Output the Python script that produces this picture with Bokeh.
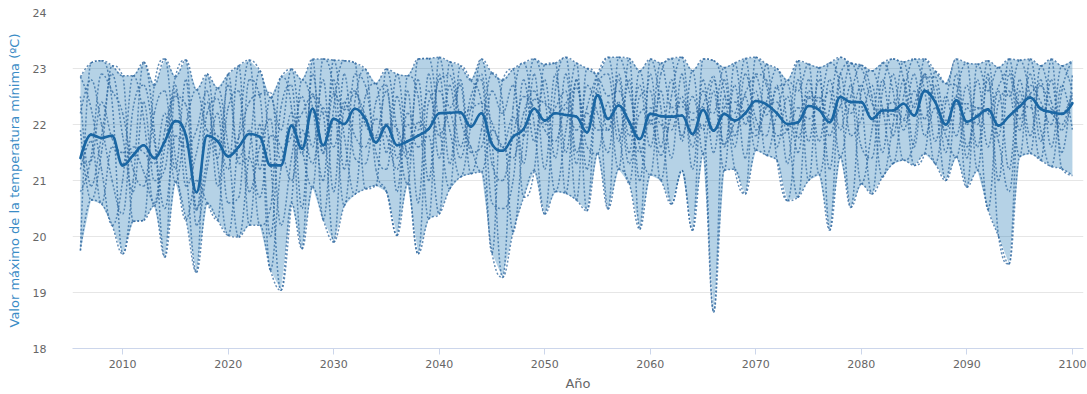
from bokeh.plotting import figure
from bokeh.models import Range1d, FixedTicker, ColumnDataSource
from bokeh.embed import file_html
from bokeh.resources import INLINE

years = list(range(2006, 2101))

mean_vals = [21.40, 21.82, 21.76, 21.80, 21.27, 21.45, 21.63, 21.40, 21.70, 22.06,
             21.80, 20.79, 21.80, 21.70, 21.43, 21.60, 21.83, 21.78, 21.27, 21.27,
             21.98, 21.57, 22.28, 21.63, 22.10, 22.01, 22.28, 22.10, 21.68, 21.98,
             21.63, 21.70, 21.80, 21.92, 22.20, 22.21, 22.22, 21.96, 22.20, 21.65,
             21.53, 21.78, 21.92, 22.28, 22.07, 22.20, 22.17, 22.14, 21.86, 22.52,
             22.10, 22.34, 22.05, 21.74, 22.19, 22.15, 22.14, 22.16, 21.83, 22.26,
             21.89, 22.19, 22.07, 22.20, 22.42, 22.36, 22.20, 22.01, 22.04, 22.33,
             22.26, 22.04, 22.49, 22.40, 22.40, 22.10, 22.25, 22.25, 22.37, 22.16,
             22.60, 22.40, 22.00, 22.43, 22.05, 22.15, 22.27, 21.98, 22.15, 22.32,
             22.48, 22.28, 22.22, 22.19, 22.38]

upper_vals = [22.85, 23.10, 23.14, 23.05, 22.87, 22.87, 23.11, 22.70, 23.17, 22.85,
              23.15, 22.62, 22.90, 22.65, 22.90, 23.05, 23.15, 22.96, 22.48, 22.85,
              22.99, 22.80, 23.17, 23.17, 23.15, 23.14, 23.10, 22.99, 22.73, 22.99,
              22.90, 22.87, 23.17, 23.18, 23.20, 23.12, 23.05, 22.79, 23.17, 22.92,
              22.79, 22.99, 23.10, 23.17, 23.07, 23.10, 23.20, 23.10, 23.00, 22.90,
              23.20, 23.20, 23.18, 22.96, 23.17, 23.10, 23.18, 23.20, 22.96, 23.17,
              23.14, 23.02, 23.10, 23.18, 23.20, 23.08, 23.00, 22.79, 23.14, 23.08,
              23.02, 23.10, 23.20, 23.10, 23.06, 22.96, 23.10, 23.17, 23.12, 23.17,
              23.17, 22.95, 22.73, 23.17, 23.10, 23.08, 23.14, 23.02, 23.17, 23.15,
              23.17, 23.05, 23.17, 23.05, 23.14]

lower_vals = [19.75, 20.65, 20.58, 20.20, 19.69, 20.27, 20.29, 20.55, 19.63, 20.97,
              20.30, 19.36, 20.60, 20.29, 20.02, 19.99, 20.20, 20.20, 19.40, 19.04,
              20.60, 19.78, 20.88, 20.30, 19.90, 20.55, 20.75, 20.85, 20.91, 20.80,
              20.02, 20.94, 19.69, 20.31, 20.40, 20.85, 21.06, 21.12, 21.15, 19.70,
              19.27, 20.08, 20.70, 21.18, 20.40, 20.80, 20.77, 20.65, 20.46, 21.48,
              20.49, 21.20, 20.95, 20.13, 21.10, 21.00, 20.58, 21.18, 20.11, 21.48,
              18.65, 21.18, 21.20, 20.76, 21.54, 21.45, 21.36, 20.64, 20.70, 21.00,
              21.10, 20.11, 21.42, 20.52, 20.94, 20.76, 21.06, 21.30, 21.36, 21.27,
              21.48, 21.30, 21.00, 21.42, 20.88, 21.18, 20.48, 20.00, 19.51, 21.42,
              21.48, 21.36, 21.25, 21.21, 21.09]

model_1 = [22.85, 22.30, 21.20, 20.20, 21.00, 22.87, 22.10, 20.55, 21.60, 22.85,
           23.15, 20.50, 21.40, 22.65, 21.60, 19.99, 21.50, 22.96, 21.40, 19.04,
           20.60, 22.80, 22.30, 21.00, 23.15, 21.80, 20.75, 22.50, 22.73, 21.50,
           22.90, 21.30, 19.69, 22.40, 22.60, 21.90, 21.06, 22.00, 23.17, 21.70,
           19.27, 22.30, 23.10, 22.00, 20.40, 22.60, 23.20, 21.50, 22.30, 22.90,
           23.20, 21.90, 20.95, 22.50, 22.60, 21.00, 22.50, 23.20, 21.80, 22.00,
           18.65, 22.50, 22.20, 23.18, 21.90, 22.40, 23.00, 22.00, 20.70, 22.60,
           22.40, 23.10, 22.60, 20.52, 22.60, 22.96, 22.30, 21.30, 22.50, 23.17,
           22.60, 21.30, 22.40, 23.17, 21.60, 22.20, 20.48, 22.40, 22.60, 21.42,
           23.17, 21.90, 21.25, 22.60, 23.14]

model_2 = [19.75, 23.10, 23.14, 22.40, 19.69, 21.00, 23.11, 21.90, 19.63, 22.60,
           21.20, 19.36, 22.90, 21.30, 20.02, 21.80, 23.15, 21.20, 22.48, 21.90,
           22.99, 21.60, 20.88, 23.17, 22.60, 20.55, 22.40, 22.99, 21.20, 20.80,
           20.02, 22.87, 22.50, 20.31, 23.20, 22.30, 22.70, 21.12, 21.90, 22.92,
           22.40, 20.08, 21.80, 23.17, 22.50, 20.80, 21.90, 23.10, 20.46, 22.60,
           20.49, 23.20, 22.60, 21.60, 21.10, 22.90, 23.18, 21.70, 22.96, 21.48,
           22.60, 21.18, 23.10, 22.00, 22.60, 21.45, 22.20, 22.79, 22.60, 23.08,
           21.10, 22.30, 23.20, 22.80, 20.94, 21.90, 23.10, 22.60, 21.36, 21.70,
           23.17, 22.50, 21.00, 22.50, 23.10, 21.18, 22.90, 20.00, 19.51, 22.60,
           21.48, 23.05, 22.40, 21.90, 22.50]

model_3 = [21.90, 20.65, 21.50, 23.05, 22.87, 20.27, 20.29, 22.70, 23.17, 21.40,
           20.30, 21.00, 20.60, 20.29, 22.90, 21.40, 21.90, 20.20, 20.50, 22.85,
           22.30, 19.78, 23.17, 20.30, 22.30, 23.14, 23.10, 20.85, 20.91, 22.99,
           21.90, 20.94, 23.17, 23.18, 22.00, 20.85, 23.05, 22.79, 22.40, 19.70,
           22.79, 22.99, 20.70, 21.18, 23.07, 23.10, 20.77, 22.80, 21.60, 21.48,
           22.40, 21.20, 23.18, 20.13, 23.17, 22.30, 20.58, 21.18, 20.11, 23.17,
           23.14, 22.60, 21.20, 20.76, 23.20, 22.70, 21.80, 21.90, 23.14, 21.00,
           23.02, 20.11, 22.90, 23.10, 22.40, 20.76, 22.60, 23.17, 22.80, 21.27,
           21.48, 22.95, 22.73, 22.70, 20.88, 23.08, 22.60, 23.02, 22.50, 23.15,
           22.50, 21.36, 23.17, 21.21, 21.09]

model_4 = [21.20, 21.70, 20.58, 21.60, 21.30, 21.60, 21.50, 21.30, 22.20, 20.97,
           22.00, 22.62, 21.90, 21.80, 21.20, 23.05, 20.20, 22.00, 19.40, 21.20,
           21.80, 22.20, 22.50, 22.20, 19.90, 22.30, 22.60, 22.00, 21.80, 22.60,
           21.40, 22.00, 21.60, 21.80, 20.40, 23.12, 22.10, 21.60, 21.15, 21.90,
           21.60, 21.40, 22.20, 22.60, 22.00, 22.30, 22.60, 20.65, 23.00, 22.80,
           21.90, 22.80, 21.50, 22.96, 22.00, 23.10, 22.30, 22.40, 22.20, 22.30,
           22.20, 23.02, 21.80, 22.50, 21.54, 23.08, 21.36, 20.64, 22.00, 22.50,
           22.30, 22.60, 21.42, 22.50, 23.06, 22.50, 21.06, 22.00, 23.12, 22.30,
           22.90, 22.40, 21.80, 21.42, 22.30, 22.00, 23.14, 21.80, 23.17, 22.10,
           22.70, 22.40, 22.00, 23.05, 22.60]

model_5 = [21.30, 21.35, 22.40, 21.75, 21.50, 21.50, 21.15, 20.60, 21.90, 22.50,
           22.35, 20.47, 22.20, 22.46, 21.43, 21.76, 22.40, 22.54, 22.57, 21.36,
           22.21, 21.47, 22.55, 21.48, 22.55, 22.26, 22.55, 22.16, 21.76, 22.01,
           21.93, 21.39, 22.04, 21.91, 22.80, 22.88, 22.19, 22.29, 22.38, 22.03,
           21.59, 22.13, 21.80, 22.45, 22.38, 22.20, 22.38, 22.65, 21.94, 22.82,
           22.51, 22.60, 22.02, 21.51, 22.08, 21.45, 22.14, 22.32, 22.08, 22.35,
           22.86, 21.65, 22.05, 22.56, 22.86, 22.17, 22.64, 22.72, 21.76, 22.47,
           22.48, 22.09, 22.33, 23.08, 23.00, 22.38, 22.19, 22.18, 22.07, 22.36,
           22.85, 22.85, 22.07, 22.36, 22.37, 22.29, 22.23, 22.68, 22.97, 22.33,
           22.55, 22.69, 22.28, 22.19, 22.55]

model_6 = [22.2, 22.8, 22.0, 21.0, 20.4, 22.3, 22.7, 21.7, 20.5, 21.8,
           21.6, 21.9, 22.6, 20.9, 22.3, 22.6, 20.8, 21.6, 22.1, 20.2,
           21.4, 22.5, 21.6, 22.8, 20.8, 22.9, 21.4, 21.3, 22.4, 22.7,
           20.8, 22.6, 20.6, 22.9, 21.4, 22.7, 21.6, 22.5, 22.8, 20.6,
           20.5, 21.0, 22.8, 21.7, 22.8, 21.4, 22.9, 21.3, 22.7, 22.2,
           21.5, 22.9, 21.8, 22.7, 21.6, 22.6, 21.4, 22.9, 21.2, 22.8,
           21.5, 22.8, 21.6, 22.9, 22.1, 21.8, 22.7, 21.3, 22.8, 21.7,
           22.8, 21.2, 22.9, 21.8, 22.1, 22.7, 21.5, 22.9, 21.9, 22.6,
           22.1, 22.7, 21.5, 22.9, 21.4, 22.8, 21.6, 22.6, 21.2, 22.8,
           21.8, 22.8, 21.6, 22.7, 21.9]

model_7 = [20.8, 21.4, 22.9, 22.6, 22.2, 21.2, 20.9, 22.2, 22.6, 21.2,
           22.8, 20.2, 21.2, 22.2, 20.6, 20.7, 22.8, 22.5, 20.0, 22.3,
           22.7, 20.5, 22.9, 21.5, 22.8, 21.2, 22.9, 22.7, 21.5, 21.2,
           22.5, 21.5, 22.8, 21.0, 22.9, 21.3, 22.8, 21.5, 21.6, 22.6,
           22.2, 22.7, 21.3, 22.9, 21.2, 22.9, 21.5, 22.8, 21.2, 22.7,
           22.9, 21.7, 22.8, 21.0, 22.9, 21.6, 22.8, 21.8, 22.5, 21.9,
           22.8, 21.6, 22.7, 21.4, 22.9, 22.8, 21.6, 22.5, 21.5, 22.8,
           21.7, 22.8, 21.9, 22.7, 21.6, 21.4, 22.8, 21.8, 22.8, 21.6,
           22.9, 21.7, 22.5, 21.8, 22.7, 21.6, 22.8, 21.0, 22.9, 21.9,
           22.9, 21.7, 22.8, 21.5, 22.9]

model_8 = [22.5, 20.9, 21.8, 22.9, 21.8, 20.8, 22.4, 21.0, 21.2, 22.7,
           20.9, 21.5, 22.4, 21.4, 22.7, 21.3, 21.4, 20.7, 21.8, 21.6,
           21.0, 21.9, 21.3, 22.3, 21.6, 22.4, 21.8, 21.6, 22.1, 21.8,
           21.2, 22.2, 21.9, 22.6, 21.8, 22.2, 21.4, 22.3, 22.9, 21.3,
           21.0, 21.8, 22.5, 22.3, 21.9, 21.7, 22.3, 21.9, 22.2, 21.9,
           21.9, 22.4, 21.3, 22.2, 22.3, 22.0, 21.9, 22.5, 21.6, 22.6,
           21.9, 22.3, 22.4, 22.2, 21.8, 22.3, 22.4, 21.9, 22.3, 22.1,
           22.3, 21.8, 22.5, 22.2, 22.7, 22.1, 22.2, 22.4, 22.1, 22.9,
           21.8, 22.3, 21.9, 22.5, 22.0, 22.3, 22.2, 21.7, 20.8, 22.4,
           22.3, 22.3, 22.2, 22.0, 22.6]

models = [model_1, model_2, model_3, model_4, model_5, model_6, model_7, model_8,
          upper_vals, lower_vals]

x_ticks = [2010, 2020, 2030, 2040, 2050, 2060, 2070, 2080, 2090, 2100]
y_ticks = [18, 19, 20, 21, 22, 23, 24]


def spline_segments(xs, ys, smoothing=1.5):
    """Cubic Bezier control points for a smooth curve through the data points."""
    n = len(xs)
    lcx, lcy = list(xs), list(ys)
    rcx, rcy = list(xs), list(ys)
    denom = smoothing + 1
    for i in range(1, n - 1):
        x, y = xs[i], ys[i]
        xp, yp = xs[i - 1], ys[i - 1]
        xn, yn = xs[i + 1], ys[i + 1]
        lx = (smoothing * x + xp) / denom
        ly = (smoothing * y + yp) / denom
        rx = (smoothing * x + xn) / denom
        ry = (smoothing * y + yn) / denom
        if rx != lx:
            corr = ((ry - ly) * (rx - x)) / (rx - lx) + y - ry
            ly += corr
            ry += corr
        if ly > max(yp, y):
            ly = max(yp, y); ry = 2 * y - ly
        elif ly < min(yp, y):
            ly = min(yp, y); ry = 2 * y - ly
        if ry > max(y, yn):
            ry = max(y, yn); ly = 2 * y - ry
        elif ry < min(y, yn):
            ry = min(y, yn); ly = 2 * y - ry
        lcx[i], lcy[i], rcx[i], rcy[i] = lx, ly, rx, ry
    return dict(x0=xs[:-1], y0=ys[:-1], x1=xs[1:], y1=ys[1:],
                cx0=rcx[:-1], cy0=rcy[:-1], cx1=lcx[1:], cy1=lcy[1:])


p = figure(width=1087, height=394, output_backend="svg", toolbar_location=None,
           x_range=Range1d(2005.25, 2101.05), y_range=Range1d(18, 24),
           min_border_left=72, min_border_right=4, min_border_top=12, min_border_bottom=46)
p.outline_line_color = None
p.background_fill_color = "white"
p.border_fill_color = "white"

src = ColumnDataSource(dict(x=years, lo=lower_vals, hi=upper_vals, m=mean_vals))
p.varea(x="x", y1="lo", y2="hi", source=src, fill_color="#1f77b4", fill_alpha=0.33)

for mv in models:
    seg = ColumnDataSource(spline_segments(years, mv))
    p.bezier(x0="x0", y0="y0", x1="x1", y1="y1", cx0="cx0", cy0="cy0", cx1="cx1", cy1="cy1",
             source=seg, line_color="#2f68a0", line_width=1.5, line_dash="2 2", line_alpha=0.75)

mseg = ColumnDataSource(spline_segments(years, mean_vals))
p.bezier(x0="x0", y0="y0", x1="x1", y1="y1", cx0="cx0", cy0="cy0", cx1="cx1", cy1="cy1",
         source=mseg, line_color="#1a66a3", line_width=2.6, line_cap="round")

p.xgrid.grid_line_color = None
p.ygrid.grid_line_color = "#e6e6e6"
p.ygrid.ticker = FixedTicker(ticks=y_ticks)

p.xaxis.ticker = FixedTicker(ticks=x_ticks)
p.yaxis.ticker = FixedTicker(ticks=y_ticks)
p.xaxis.axis_label = "Año"
p.yaxis.axis_label = "Valor máximo de la temperatura mínima (ºC)"

for ax in (p.xaxis[0], p.yaxis[0]):
    ax.major_label_text_font = "DejaVu Sans"
    ax.major_label_text_font_size = "11px"
    ax.major_label_text_color = "#666666"
    ax.axis_label_text_font = "DejaVu Sans"
    ax.axis_label_text_font_size = "13px"
    ax.axis_label_text_font_style = "normal"
    ax.minor_tick_line_color = None

p.xaxis.axis_line_color = "#ccd6eb"
p.xaxis.major_tick_line_color = "#ccd6eb"
p.xaxis.major_tick_out = 6
p.xaxis.major_tick_in = 0
p.xaxis.major_label_standoff = 5
p.xaxis.axis_label_standoff = 5
p.xaxis.axis_label_text_color = "#666666"

p.yaxis.axis_line_color = None
p.yaxis.major_tick_line_color = None
p.yaxis.major_label_standoff = 20
p.yaxis.axis_label_standoff = 8
p.yaxis.axis_label_text_color = "#3a8cc6"

open("out.html", "w").write(file_html(p, INLINE))
